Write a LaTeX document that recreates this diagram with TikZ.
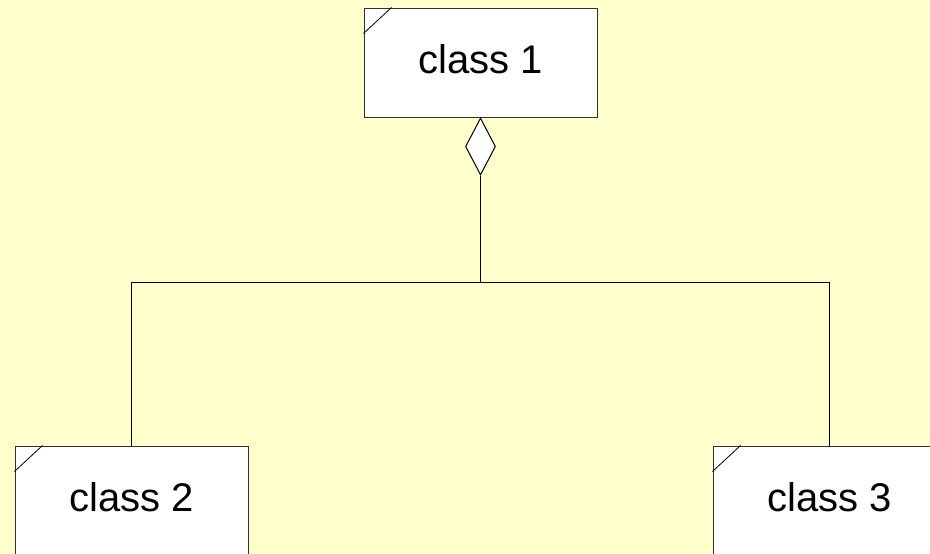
\documentclass[tikz,border=0pt]{standalone}
\usepackage{fontspec}
\setmainfont{Liberation Sans}
\usetikzlibrary{shapes.geometric}
\definecolor{bgyellow}{HTML}{FFFFCC}
\definecolor{edge}{HTML}{303030}
\begin{document}
\begin{tikzpicture}[x=1pt,y=-1pt,
  classbox/.style={draw=edge, line width=1pt, fill=white, minimum width=233pt, minimum height=109pt,
    inner sep=0pt, font=\fontsize{40}{48}\selectfont, text height=21pt, text depth=0pt},
  conn/.style={draw=black, line width=1pt},
  corner/.style={draw=black, line width=0.8pt}]
\fill[bgyellow] (0,0) rectangle (930,554);
\useasboundingbox (0,0) rectangle (930,554);
\begin{scope}
\clip (0,0) rectangle (930,554);
\node[classbox] (c1) at (480.5,62.5) {class 1};
\node[classbox] (c2) at (131.5,500.5) {class 2};
\node[classbox] (c3) at (829.5,500.5) {class 3};
\foreach \n in {c1,c2,c3}{
  \draw[corner] ([yshift=-26pt]\n.north west) -- ([xshift=28pt]\n.north west);
}
\node[diamond, draw=black, line width=1pt, fill=white, inner sep=0pt, minimum width=30pt, minimum height=57pt, anchor=north] (d) at (c1.south) {};
\coordinate (j) at (480.5,282.5);
\draw[conn] (d.south) -- (j);
\draw[conn] (c2.north) |- (j) -| (c3.north);
\end{scope}
\end{tikzpicture}
\end{document}
